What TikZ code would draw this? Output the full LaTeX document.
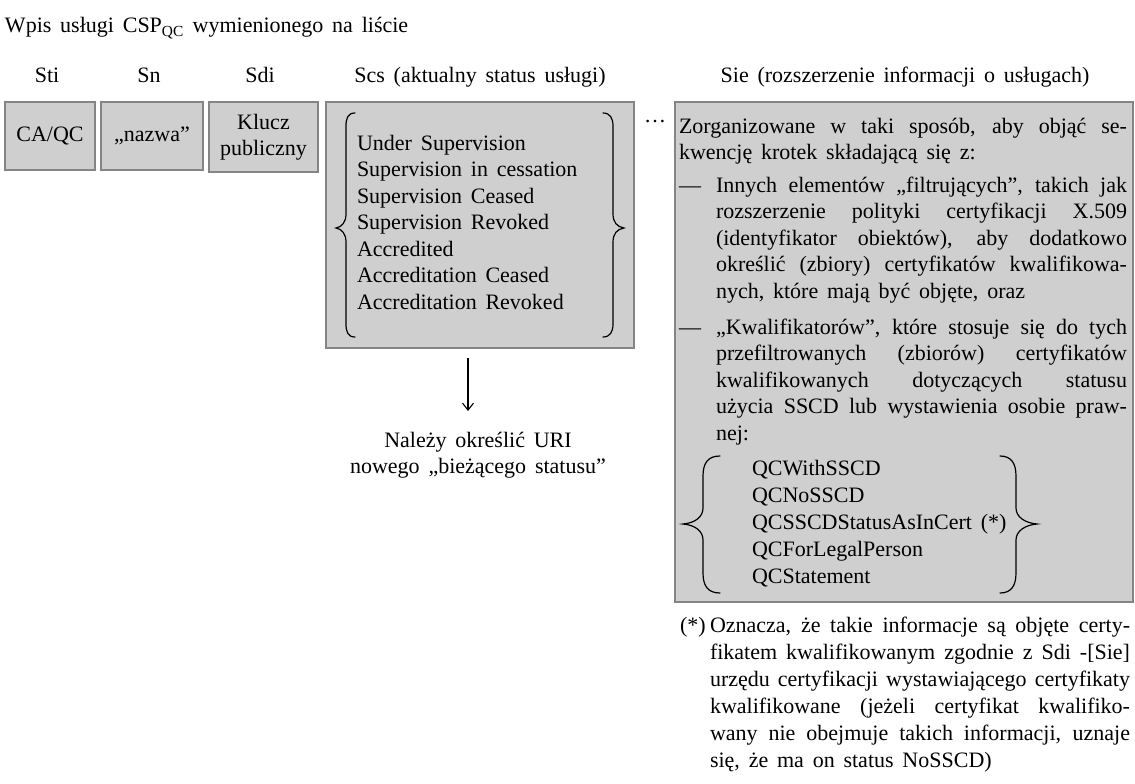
\documentclass[tikz,border=0pt]{standalone}
\usepackage{fontspec}
\setmainfont{Liberation Serif}[WordSpace=1.6]
\usetikzlibrary{arrows.meta}
\newcommand\txt{\fontsize{22}{26.5}\selectfont}
\newcommand\jl[1]{\hbox to\hsize{#1}}
\newcommand\nl[1]{\hbox{#1}}
\begin{document}
\begin{tikzpicture}[x=1pt,y=-1pt,
  every node/.style={inner sep=0pt, outer sep=0pt, font=\txt},
  box/.style={fill=black!19, draw=black!48, line width=2.4pt, anchor=north west},
  brc/.style={line width=1.2pt, line cap=round},
  arr/.style={line width=1.1pt, -{Straight Barb[length=7pt,width=11pt]}}]
\useasboundingbox (0,0) rectangle (1135,784);

% title and headers
\node[anchor=base west] (title) at (5,33) {Wpis usługi CSP\textsubscript{QC} wymienionego na liście};
\node[anchor=base] (hsti) at (47,82) {Sti};
\node[anchor=base] (hsn) at (149,82) {Sn};
\node[anchor=base] (hsdi) at (260,82) {Sdi};
\node[anchor=base] (hscs) at (480,82) {Scs (aktualny status usługi)};
\node[anchor=base] (hsie) at (905,82) {Sie (rozszerzenie informacji o usługach)};

% boxes
\node[box, minimum width=90pt, minimum height=68pt] (sti) at (5,102) {CA/QC};
\node[box, minimum width=102pt, minimum height=68pt] (sn) at (101,102) {„nazwa”};
\node[box, minimum width=109pt, minimum height=70pt, align=center] (sdi) at (209,102) {Klucz\\publiczny};
\node[box, minimum width=308pt, minimum height=246pt] (scs) at (326,102) {};
\node[box, minimum width=458pt, minimum height=500pt] (sie) at (675,102) {};

\node (dots) at (655,122) {\dots};

% Scs content
\node[anchor=base west] (scstext) at (357,150) {\parbox[t]{250pt}{\txt
  \nl{Under Supervision}
  \nl{Supervision in cessation}
  \nl{Supervision Ceased}
  \nl{Supervision Revoked}
  \nl{Accredited}
  \nl{Accreditation Ceased}
  \nl{Accreditation Revoked}}};
\draw[brc] (355,113) .. controls (348,113) and (346,118) .. (346,126) -- (346,214) .. controls (346,222) and (342,227) .. (336,228) .. controls (342,229) and (346,234) .. (346,242) -- (346,324) .. controls (346,332) and (348,337) .. (355,337);
\draw[brc] (603,113) .. controls (610,113) and (613,118) .. (613,126) -- (613,214) .. controls (613,222) and (617,227) .. (624,228) .. controls (617,229) and (613,234) .. (613,242) -- (613,324) .. controls (613,332) and (610,337) .. (603,337);

% arrow and URI note
\coordinate (atop) at (468,358);
\coordinate (abot) at (468,411);
\draw[arr] (atop) -- (abot);
\node[anchor=base] (uri) at (478,447) {\parbox[t]{300pt}{\centering\txt Należy określić URI\\nowego „bieżącego statusu”}};

% Sie content
\node[anchor=base west] (sieintro) at (679,133) {\parbox[t]{448pt}{\txt
  \jl{Zorganizowane w taki sposób, aby objąć se-}
  \nl{kwencję krotek składającą się z:}}};
\node[anchor=base west] (dash1) at (679,192) {—};
\node[anchor=base west] (item1) at (716,192) {\parbox[t]{411pt}{\txt
  \jl{Innych elementów „filtrujących”, takich jak}
  \jl{rozszerzenie polityki certyfikacji X.509}
  \jl{(identyfikator obiektów), aby dodatkowo}
  \jl{określić (zbiory) certyfikatów kwalifikowa-}
  \nl{nych, które mają być objęte, oraz}}};
\node[anchor=base west] (dash2) at (679,334) {—};
\node[anchor=base west] (item2) at (716,334) {\parbox[t]{411pt}{\txt
  \jl{„Kwalifikatorów”, które stosuje się do tych}
  \jl{przefiltrowanych (zbiorów) certyfikatów}
  \jl{kwalifikowanych dotyczących statusu}
  \jl{użycia SSCD lub wystawienia osobie praw-}
  \nl{nej:}}};
\node[anchor=base west] (qclist) at (752,475) {\parbox[t]{250pt}{\fontsize{22}{27}\selectfont
  \nl{QCWithSSCD}
  \nl{QCNoSSCD}
  \nl{QCSSCDStatusAsInCert (*)}
  \nl{QCForLegalPerson}
  \nl{QCStatement}}};
\draw[brc] (720,456) .. controls (708,456) and (703,463) .. (703,476) -- (703,508) .. controls (703,517) and (695,523) .. (683,524) .. controls (695,525) and (703,531) .. (703,540) -- (703,573) .. controls (703,586) and (708,593) .. (720,593);
\draw[brc] (1000,456) .. controls (1011,456) and (1016,463) .. (1016,476) -- (1016,508) .. controls (1016,517) and (1025,523) .. (1037,524) .. controls (1025,525) and (1016,531) .. (1016,540) -- (1016,573) .. controls (1016,586) and (1011,593) .. (1000,593);

% footnote
\node[anchor=base west] (star) at (680,632) {(*)};
\node[anchor=base west] (foot) at (710,632) {\parbox[t]{420pt}{\fontsize{22}{27}\selectfont
  \jl{Oznacza, że takie informacje są objęte certy-}
  \jl{fikatem kwalifikowanym zgodnie z Sdi -[Sie]}
  \jl{urzędu certyfikacji wystawiającego certyfikaty}
  \jl{kwalifikowane (jeżeli certyfikat kwalifiko-}
  \jl{wany nie obejmuje takich informacji, uznaje}
  \nl{się, że ma on status NoSSCD)}}};
\end{tikzpicture}
\end{document}
